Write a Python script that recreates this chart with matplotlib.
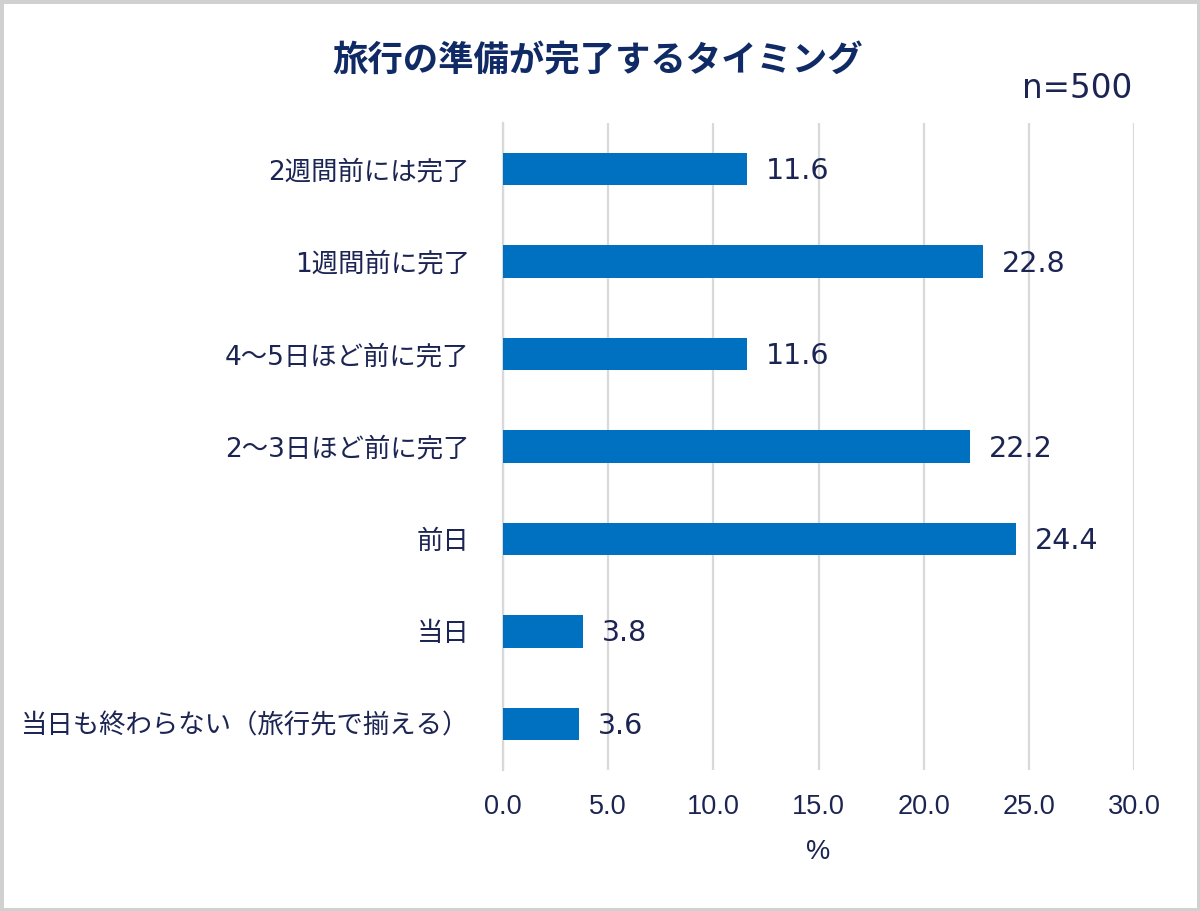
import matplotlib
matplotlib.use("Agg")
import matplotlib.pyplot as plt
from matplotlib.patches import Rectangle

categories = ["2週間前には完了", "1週間前に完了", "4～5日ほど前に完了", "2～3日ほど前に完了",
              "前日", "当日", "当日も終わらない（旅行先で揃える）"]
values = [11.6, 22.8, 11.6, 22.2, 24.4, 3.8, 3.6]
xticks = [0, 5, 10, 15, 20, 25, 30]
xtick_labels = ["0.0", "5.0", "10.0", "15.0", "20.0", "25.0", "30.0"]
title = "旅行の準備が完了するタイミング"
note = "n=500"
xlabel = "%"

FAM = ["DejaVu Sans", "Noto Sans CJK JP"]
plt.rcParams["font.family"] = FAM

TXT = "#1b2452"
BAR = "#0070C0"
GRID = "#d9d9d9"

fig = plt.figure(figsize=(12, 9.11), dpi=100)
fig.patches.append(Rectangle((0, 0), 1, 1, transform=fig.transFigure, fill=False,
                             edgecolor="#d0d0d0", linewidth=5))

ax = fig.add_axes([503/1200, 1-770/911, (1134-503)/1200, (770-123)/911])
y = list(range(len(categories)))
ax.barh(y, values, height=0.35, color=BAR, zorder=3)
ax.set_ylim(len(categories)-0.5, -0.5)
ax.set_xlim(0, 30)
ax.set_xticks(xticks)
ax.set_xticklabels(xtick_labels, family="Liberation Sans", fontsize=19.5, color=TXT)
ax.set_yticks(y)
ax.set_yticklabels(categories, fontsize=19, color=TXT, family=FAM)
ax.tick_params(axis="both", length=0)
ax.tick_params(axis="y", pad=24)
ax.tick_params(axis="x", pad=17)
ax.grid(axis="x", color=GRID, linewidth=1.6, zorder=0)
for s in ["top", "right", "bottom"]:
    ax.spines[s].set_visible(False)
ax.spines["left"].set_color(GRID)
ax.spines["left"].set_linewidth(1.6)

for yi, v in zip(y, values):
    ax.annotate(f"{v:.1f}", (v, yi), xytext=(19, -2), textcoords="offset pixels",
                va="center", ha="left", fontsize=20.5, color=TXT, family="DejaVu Sans")

ax.set_xlabel(xlabel, family="Liberation Sans", fontsize=19.5, color=TXT, labelpad=14)

fig.text(598/1200, 1-61/911, title, ha="center", va="center", fontsize=25.5,
         fontweight="bold", color="#102a66", family=["Noto Sans CJK JP"])
fig.text(1132/1200, 1-88/911, note, ha="right", va="center", fontsize=23.5,
         color=TXT, family="DejaVu Sans")

fig.savefig("out.png", dpi=100)
